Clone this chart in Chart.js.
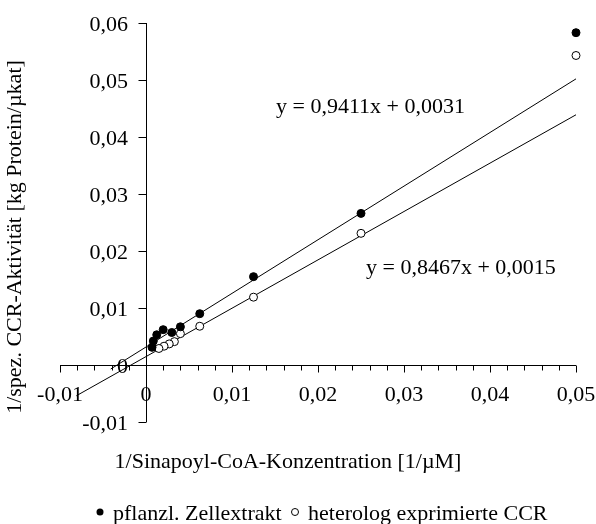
<!DOCTYPE html>
<html>
<head>
<meta charset="utf-8">
<script src="https://cdn.jsdelivr.net/npm/chart.js@4/dist/chart.umd.min.js"></script>
<style>
html,body{margin:0;padding:0;background:#fff;}
#wrap{width:596px;height:524px;position:relative;}
</style>
</head>
<body>
<div id="wrap"><canvas id="c" width="596" height="524"></canvas></div>
<script>
// ---- data ----
const filledX = [0.05, 0.025, 0.0125, 0.00625, 0.004, 0.003, 0.002, 0.00125, 0.00085, 0.0007];
const filledY = [0.0583, 0.0266, 0.0155, 0.0090, 0.0067, 0.0057, 0.0062, 0.0053, 0.0042, 0.0031];
const openX = [0.05, 0.025, 0.0125, 0.00625, 0.004, 0.0033, 0.0027, 0.0021, 0.0015];
const openY = [0.0543, 0.0231, 0.0119, 0.0068, 0.0055, 0.0041, 0.0037, 0.0033, 0.0029];
const trend1X = [-0.0041, 0.05];
const trend1Y = [-0.0007, 0.0502];
const trend2X = [-0.0081, 0.05];
const trend2Y = [-0.0054, 0.0439];
const xTickValues = [-0.01, 0, 0.01, 0.02, 0.03, 0.04, 0.05];
const xTickLabels = ['-0,01', '0', '0,01', '0,02', '0,03', '0,04', '0,05'];
const xMinorStep = 0.002;
const yTickValues = [-0.01, 0, 0.01, 0.02, 0.03, 0.04, 0.05, 0.06];
const yTickLabels = ['-0,01', '0', '0,01', '0,02', '0,03', '0,04', '0,05', '0,06'];
const seriesNames = ['pflanzl. Zellextrakt', 'heterolog exprimierte CCR'];
const eq1Text = 'y = 0,9411x + 0,0031';
const eq2Text = 'y = 0,8467x + 0,0015';
const xTitle = '1/Sinapoyl-CoA-Konzentration [1/\u00B5M]';
const yTitle = '1/spez. CCR-Aktivit\u00E4t [kg Protein/\u00B5kat]';

const FONT = '22px "Liberation Serif", "Times New Roman", serif';
const toXY = (xs, ys) => xs.map((x, i) => ({x: x, y: ys[i]}));

const decor = {
  id: 'decor',
  beforeDatasetsDraw(chart) {
    const ctx = chart.ctx;
    const xs = chart.scales.x, ys = chart.scales.y;
    const x0 = Math.round(xs.getPixelForValue(0)) + 0.5;
    const y0 = Math.round(ys.getPixelForValue(0)) + 0.5;
    ctx.save();
    ctx.strokeStyle = '#000';
    ctx.lineWidth = 1;
    ctx.beginPath();
    // x axis
    ctx.moveTo(xs.getPixelForValue(xs.min), y0);
    ctx.lineTo(xs.getPixelForValue(xs.max), y0);
    // y axis
    ctx.moveTo(x0, ys.getPixelForValue(ys.max));
    ctx.lineTo(x0, ys.getPixelForValue(ys.min));
    // x minor/major ticks
    const n = Math.round((xs.max - xs.min) / xMinorStep);
    for (let i = 0; i <= n; i++) {
      const v = xs.min + i * xMinorStep;
      const px = Math.round(xs.getPixelForValue(v)) + 0.5;
      const major = i % 5 === 0;
      ctx.moveTo(px, y0);
      ctx.lineTo(px, y0 + (major ? 7 : 5));
    }
    // y ticks
    yTickValues.forEach(v => {
      const py = Math.round(ys.getPixelForValue(v)) + 0.5;
      ctx.moveTo(x0, py);
      ctx.lineTo(x0 - 8, py);
    });
    ctx.stroke();
    ctx.restore();
  },
  afterDraw(chart) {
    const ctx = chart.ctx;
    const xs = chart.scales.x, ys = chart.scales.y;
    const y0 = ys.getPixelForValue(0);
    ctx.save();
    ctx.fillStyle = '#000';
    ctx.font = FONT;
    ctx.textBaseline = 'alphabetic';
    // x tick labels
    ctx.textAlign = 'center';
    xTickValues.forEach((v, i) => {
      ctx.fillText(xTickLabels[i], xs.getPixelForValue(v), y0 + 36);
    });
    // y tick labels
    ctx.textAlign = 'right';
    yTickValues.forEach((v, i) => {
      ctx.fillText(yTickLabels[i], 128, ys.getPixelForValue(v) + 7.5);
    });
    // equations
    ctx.textAlign = 'left';
    ctx.fillText(eq1Text, 276, 113);
    ctx.fillText(eq2Text, 366, 274);
    // x title
    ctx.textAlign = 'center';
    ctx.fillText(xTitle, 288, 468);
    // y title
    ctx.save();
    ctx.translate(21, 237);
    ctx.rotate(-Math.PI / 2);
    ctx.fillText(yTitle, 0, 0);
    ctx.restore();
    // legend
    ctx.textAlign = 'left';
    ctx.beginPath();
    ctx.arc(100, 512, 3.5, 0, Math.PI * 2);
    ctx.fill();
    ctx.fillText(seriesNames[0], 113, 520);
    ctx.beginPath();
    ctx.arc(295, 512, 3.5, 0, Math.PI * 2);
    ctx.fillStyle = '#fff';
    ctx.fill();
    ctx.lineWidth = 1;
    ctx.strokeStyle = '#000';
    ctx.stroke();
    ctx.fillStyle = '#000';
    ctx.fillText(seriesNames[1], 308, 520);
    ctx.restore();
  }
};

new Chart(document.getElementById('c'), {
  type: 'scatter',
  data: {
    datasets: [
      {label: 'trend1', data: toXY(trend1X, trend1Y), showLine: true, borderColor: '#000', borderWidth: 1, pointRadius: 0, fill: false, order: 3},
      {label: 'trend2', data: toXY(trend2X, trend2Y), showLine: true, borderColor: '#000', borderWidth: 1, pointRadius: 0, fill: false, order: 3},
      {label: seriesNames[1], data: toXY(openX, openY), pointRadius: 4, pointBackgroundColor: '#fff', pointBorderColor: '#000', pointBorderWidth: 1, order: 2},
      {label: seriesNames[0], data: toXY(filledX, filledY), pointRadius: 4, pointBackgroundColor: '#000', pointBorderColor: '#000', pointBorderWidth: 1, order: 1}
    ]
  },
  options: {
    responsive: false,
    animation: false,
    clip: false,
    layout: {padding: {left: 60, right: 20, top: 23, bottom: 102}},
    scales: {
      x: {type: 'linear', min: -0.01, max: 0.05, display: false},
      y: {type: 'linear', min: -0.01, max: 0.06, display: false}
    },
    plugins: {legend: {display: false}, tooltip: {enabled: false}}
  },
  plugins: [decor]
});
</script>
</body>
</html>
